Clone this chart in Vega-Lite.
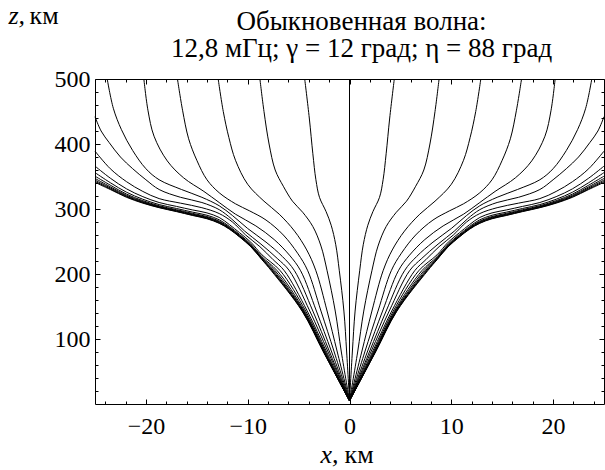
{
"$schema": "https://vega.github.io/schema/vega-lite/v6.json",
"autosize": {"type": "none"},
"padding": {"left": 95, "top": 79, "right": 1, "bottom": 66},
"width": 509,
"height": 325,
"background": "white",
"config": {"font": "Liberation Serif", "view": {"stroke": null}, "title": {"font": "Liberation Serif", "subtitleFont": "Liberation Serif"}},
"title": {"text": ["Обыкновенная волна:", "12,8 мГц; γ = 12 град; η = 88 град"], "font": "Liberation Serif", "fontSize": 27, "fontWeight": "normal", "color": "black", "anchor": "middle", "frame": "group", "offset": -52, "dy": 30, "baseline": "alphabetic", "lineHeight": 27, "dx": 12},
"datasets": {
"ax": [{"x": 0, "z": 0}],
"rays": [
{"r":"C","x":0,"z":5},{"r":"C","x":0,"z":500},
{"r":"R1","x":0,"z":5},{"r":"R1","x":0.28,"z":80},{"r":"R1","x":0.55,"z":143},{"r":"R1","x":1.0,"z":205},{"r":"R1","x":1.35,"z":245},{"r":"R1","x":1.8,"z":275},{"r":"R1","x":2.3,"z":296},{"r":"R1","x":2.95,"z":318},{"r":"R1","x":3.3,"z":345},{"r":"R1","x":3.6,"z":385},{"r":"R1","x":3.95,"z":440},{"r":"R1","x":4.4,"z":500},
{"r":"R2","x":0,"z":5},{"r":"R2","x":0.8,"z":80},{"r":"R2","x":1.4,"z":143},{"r":"R2","x":2.2,"z":205},{"r":"R2","x":2.8,"z":243},{"r":"R2","x":3.6,"z":273},{"r":"R2","x":4.6,"z":295},{"r":"R2","x":5.6,"z":312},{"r":"R2","x":6.5,"z":335},{"r":"R2","x":7.3,"z":360},{"r":"R2","x":7.9,"z":400},{"r":"R2","x":8.4,"z":450},{"r":"R2","x":8.8,"z":500},
{"r":"R3","x":0,"z":5},{"r":"R3","x":1.2,"z":80},{"r":"R3","x":2.2,"z":143},{"r":"R3","x":3.3,"z":205},{"r":"R3","x":4.2,"z":237},{"r":"R3","x":5.4,"z":266},{"r":"R3","x":6.9,"z":292},{"r":"R3","x":8.4,"z":312},{"r":"R3","x":10.0,"z":338},{"r":"R3","x":11.2,"z":375},{"r":"R3","x":11.85,"z":410},{"r":"R3","x":12.4,"z":450},{"r":"R3","x":12.9,"z":500},
{"r":"R4","x":0,"z":5},{"r":"R4","x":1.5,"z":80},{"r":"R4","x":2.8,"z":143},{"r":"R4","x":4.1,"z":205},{"r":"R4","x":5.1,"z":232},{"r":"R4","x":6.5,"z":260},{"r":"R4","x":8.2,"z":283},{"r":"R4","x":9.8,"z":297},{"r":"R4","x":11.2,"z":308},{"r":"R4","x":12.8,"z":325},{"r":"R4","x":14.0,"z":345},{"r":"R4","x":15.0,"z":375},{"r":"R4","x":15.8,"z":408},{"r":"R4","x":16.4,"z":452},{"r":"R4","x":16.9,"z":500},
{"r":"R5","x":0,"z":5},{"r":"R5","x":1.75,"z":80},{"r":"R5","x":3.25,"z":143},{"r":"R5","x":4.8,"z":205},{"r":"R5","x":5.9,"z":229},{"r":"R5","x":7.4,"z":253},{"r":"R5","x":9.2,"z":274},{"r":"R5","x":11.2,"z":292},{"r":"R5","x":12.8,"z":310},{"r":"R5","x":14.3,"z":327},{"r":"R5","x":16.3,"z":348},{"r":"R5","x":17.9,"z":374},{"r":"R5","x":19.2,"z":412},{"r":"R5","x":19.8,"z":452},{"r":"R5","x":20.2,"z":500},
{"r":"R6","x":0,"z":5},{"r":"R6","x":1.95,"z":80},{"r":"R6","x":3.6,"z":143},{"r":"R6","x":5.4,"z":205},{"r":"R6","x":6.6,"z":227},{"r":"R6","x":8.2,"z":249},{"r":"R6","x":10.0,"z":270},{"r":"R6","x":11.5,"z":290},{"r":"R6","x":12.8,"z":305},{"r":"R6","x":14.5,"z":318},{"r":"R6","x":16.5,"z":330},{"r":"R6","x":18.7,"z":345},{"r":"R6","x":20.0,"z":362},{"r":"R6","x":21.3,"z":390},{"r":"R6","x":22.4,"z":422},{"r":"R6","x":23.2,"z":455},{"r":"R6","x":23.8,"z":500},
{"r":"R7","x":0,"z":5},{"r":"R7","x":2.1,"z":80},{"r":"R7","x":3.9,"z":143},{"r":"R7","x":5.9,"z":205},{"r":"R7","x":7.1,"z":224},{"r":"R7","x":8.7,"z":246},{"r":"R7","x":10.3,"z":266},{"r":"R7","x":11.6,"z":285},{"r":"R7","x":12.8,"z":299},{"r":"R7","x":14.5,"z":310},{"r":"R7","x":16.6,"z":318},{"r":"R7","x":18.7,"z":330},{"r":"R7","x":20.0,"z":345},{"r":"R7","x":21.3,"z":362},{"r":"R7","x":22.5,"z":380},{"r":"R7","x":23.6,"z":402},{"r":"R7","x":24.4,"z":420},{"r":"R7","x":25,"z":442},
{"r":"R8","x":0,"z":5},{"r":"R8","x":2.25,"z":80},{"r":"R8","x":4.15,"z":143},{"r":"R8","x":6.4,"z":205},{"r":"R8","x":7.5,"z":222},{"r":"R8","x":8.8,"z":242},{"r":"R8","x":10.2,"z":260},{"r":"R8","x":11.5,"z":280},{"r":"R8","x":12.8,"z":293},{"r":"R8","x":14.5,"z":302},{"r":"R8","x":16.6,"z":309},{"r":"R8","x":18.7,"z":316},{"r":"R8","x":20.3,"z":327},{"r":"R8","x":21.9,"z":342},{"r":"R8","x":23.5,"z":362},{"r":"R8","x":25,"z":389},
{"r":"R9","x":0,"z":5},{"r":"R9","x":2.35,"z":80},{"r":"R9","x":4.3,"z":143},{"r":"R9","x":6.8,"z":205},{"r":"R9","x":8.6,"z":229.5},{"r":"R9","x":9.7,"z":249},{"r":"R9","x":10.8,"z":263.5},{"r":"R9","x":11.8,"z":276},{"r":"R9","x":12.8,"z":287},{"r":"R9","x":14.0,"z":294},{"r":"R9","x":15.4,"z":298.5},{"r":"R9","x":17.0,"z":304},{"r":"R9","x":18.7,"z":310},{"r":"R9","x":20.3,"z":319},{"r":"R9","x":21.9,"z":331},{"r":"R9","x":23.5,"z":347.5},{"r":"R9","x":25,"z":366},
{"r":"R10","x":0,"z":5},{"r":"R10","x":2.42,"z":80},{"r":"R10","x":4.42,"z":143},{"r":"R10","x":7.1,"z":205},{"r":"R10","x":8.6,"z":226.5},{"r":"R10","x":9.7,"z":246.2},{"r":"R10","x":10.8,"z":260.9},{"r":"R10","x":11.8,"z":273.2},{"r":"R10","x":12.8,"z":283.4},{"r":"R10","x":14.0,"z":290.4},{"r":"R10","x":15.4,"z":295.1},{"r":"R10","x":17.0,"z":300.8},{"r":"R10","x":18.7,"z":306.8},{"r":"R10","x":20.3,"z":315},{"r":"R10","x":21.9,"z":325.8},{"r":"R10","x":23.5,"z":340.5},{"r":"R10","x":25,"z":356},
{"r":"R11","x":0,"z":5},{"r":"R11","x":2.47,"z":80},{"r":"R11","x":4.5,"z":143},{"r":"R11","x":7.3,"z":205},{"r":"R11","x":8.6,"z":224.9},{"r":"R11","x":9.7,"z":244.7},{"r":"R11","x":10.8,"z":259.5},{"r":"R11","x":11.8,"z":271.7},{"r":"R11","x":12.8,"z":281.4},{"r":"R11","x":14.0,"z":288.4},{"r":"R11","x":15.4,"z":293.2},{"r":"R11","x":17.0,"z":299},{"r":"R11","x":18.7,"z":305},{"r":"R11","x":20.3,"z":312.8},{"r":"R11","x":21.9,"z":322.9},{"r":"R11","x":23.5,"z":336.7},{"r":"R11","x":25,"z":350.5},
{"r":"R12","x":0,"z":5},{"r":"R12","x":2.5,"z":80},{"r":"R12","x":4.55,"z":143},{"r":"R12","x":7.45,"z":205},{"r":"R12","x":8.6,"z":223.8},{"r":"R12","x":9.7,"z":243.7},{"r":"R12","x":10.8,"z":258.6},{"r":"R12","x":11.8,"z":270.7},{"r":"R12","x":12.8,"z":280.2},{"r":"R12","x":14.0,"z":287.2},{"r":"R12","x":15.4,"z":292},{"r":"R12","x":17.0,"z":297.9},{"r":"R12","x":18.7,"z":303.9},{"r":"R12","x":20.3,"z":311.4},{"r":"R12","x":21.9,"z":321.1},{"r":"R12","x":23.5,"z":334.2},{"r":"R12","x":25,"z":347},
{"r":"R13","x":0,"z":5},{"r":"R13","x":2.52,"z":80},{"r":"R13","x":4.6,"z":143},{"r":"R13","x":7.55,"z":205},{"r":"R13","x":8.6,"z":223.1},{"r":"R13","x":9.7,"z":243},{"r":"R13","x":10.8,"z":257.9},{"r":"R13","x":11.8,"z":270},{"r":"R13","x":12.8,"z":279.3},{"r":"R13","x":14.0,"z":286.3},{"r":"R13","x":15.4,"z":291.2},{"r":"R13","x":17.0,"z":297.1},{"r":"R13","x":18.7,"z":303.1},{"r":"R13","x":20.3,"z":310.4},{"r":"R13","x":21.9,"z":319.8},{"r":"R13","x":23.5,"z":332.5},{"r":"R13","x":25,"z":344.5},
{"r":"R14","x":0,"z":5},{"r":"R14","x":2.54,"z":80},{"r":"R14","x":4.63,"z":143},{"r":"R14","x":7.62,"z":205},{"r":"R14","x":8.6,"z":222.5},{"r":"R14","x":9.7,"z":242.4},{"r":"R14","x":10.8,"z":257.4},{"r":"R14","x":11.8,"z":269.4},{"r":"R14","x":12.8,"z":278.5},{"r":"R14","x":14.0,"z":285.5},{"r":"R14","x":15.4,"z":290.5},{"r":"R14","x":17.0,"z":296.5},{"r":"R14","x":18.7,"z":302.5},{"r":"R14","x":20.3,"z":309.6},{"r":"R14","x":21.9,"z":318.8},{"r":"R14","x":23.5,"z":331.1},{"r":"R14","x":25,"z":342.5},
{"r":"R15","x":0,"z":5},{"r":"R15","x":2.56,"z":80},{"r":"R15","x":4.66,"z":143},{"r":"R15","x":7.68,"z":205},{"r":"R15","x":8.6,"z":222},{"r":"R15","x":9.7,"z":242},{"r":"R15","x":10.8,"z":257},{"r":"R15","x":11.8,"z":269},{"r":"R15","x":12.8,"z":278},{"r":"R15","x":14.0,"z":285},{"r":"R15","x":15.4,"z":290},{"r":"R15","x":17.0,"z":296},{"r":"R15","x":18.7,"z":302},{"r":"R15","x":20.3,"z":309},{"r":"R15","x":21.9,"z":318},{"r":"R15","x":23.5,"z":330},{"r":"R15","x":25,"z":341},
{"r":"L1","x":0,"z":5},{"r":"L1","x":-0.28,"z":80},{"r":"L1","x":-0.55,"z":143},{"r":"L1","x":-1.0,"z":205},{"r":"L1","x":-1.35,"z":245},{"r":"L1","x":-1.8,"z":275},{"r":"L1","x":-2.3,"z":296},{"r":"L1","x":-2.95,"z":318},{"r":"L1","x":-3.3,"z":345},{"r":"L1","x":-3.6,"z":385},{"r":"L1","x":-3.95,"z":440},{"r":"L1","x":-4.4,"z":500},
{"r":"L2","x":0,"z":5},{"r":"L2","x":-0.8,"z":80},{"r":"L2","x":-1.4,"z":143},{"r":"L2","x":-2.2,"z":205},{"r":"L2","x":-2.8,"z":243},{"r":"L2","x":-3.6,"z":273},{"r":"L2","x":-4.6,"z":295},{"r":"L2","x":-5.6,"z":312},{"r":"L2","x":-6.5,"z":335},{"r":"L2","x":-7.3,"z":360},{"r":"L2","x":-7.9,"z":400},{"r":"L2","x":-8.4,"z":450},{"r":"L2","x":-8.8,"z":500},
{"r":"L3","x":0,"z":5},{"r":"L3","x":-1.2,"z":80},{"r":"L3","x":-2.2,"z":143},{"r":"L3","x":-3.3,"z":205},{"r":"L3","x":-4.2,"z":237},{"r":"L3","x":-5.4,"z":266},{"r":"L3","x":-6.9,"z":292},{"r":"L3","x":-8.4,"z":312},{"r":"L3","x":-10.0,"z":338},{"r":"L3","x":-11.2,"z":375},{"r":"L3","x":-11.85,"z":410},{"r":"L3","x":-12.4,"z":450},{"r":"L3","x":-12.9,"z":500},
{"r":"L4","x":0,"z":5},{"r":"L4","x":-1.5,"z":80},{"r":"L4","x":-2.8,"z":143},{"r":"L4","x":-4.1,"z":205},{"r":"L4","x":-5.1,"z":232},{"r":"L4","x":-6.5,"z":260},{"r":"L4","x":-8.2,"z":283},{"r":"L4","x":-9.8,"z":297},{"r":"L4","x":-11.2,"z":308},{"r":"L4","x":-12.8,"z":325},{"r":"L4","x":-14.0,"z":345},{"r":"L4","x":-15.0,"z":375},{"r":"L4","x":-15.8,"z":408},{"r":"L4","x":-16.4,"z":452},{"r":"L4","x":-16.9,"z":500},
{"r":"L5","x":0,"z":5},{"r":"L5","x":-1.75,"z":80},{"r":"L5","x":-3.25,"z":143},{"r":"L5","x":-4.8,"z":205},{"r":"L5","x":-5.9,"z":229},{"r":"L5","x":-7.4,"z":253},{"r":"L5","x":-9.2,"z":274},{"r":"L5","x":-11.2,"z":292},{"r":"L5","x":-12.8,"z":310},{"r":"L5","x":-14.3,"z":327},{"r":"L5","x":-16.3,"z":348},{"r":"L5","x":-17.9,"z":374},{"r":"L5","x":-19.2,"z":412},{"r":"L5","x":-19.8,"z":452},{"r":"L5","x":-20.2,"z":500},
{"r":"L6","x":0,"z":5},{"r":"L6","x":-1.95,"z":80},{"r":"L6","x":-3.6,"z":143},{"r":"L6","x":-5.4,"z":205},{"r":"L6","x":-6.6,"z":227},{"r":"L6","x":-8.2,"z":249},{"r":"L6","x":-10.0,"z":270},{"r":"L6","x":-11.5,"z":290},{"r":"L6","x":-12.8,"z":305},{"r":"L6","x":-14.5,"z":318},{"r":"L6","x":-16.5,"z":330},{"r":"L6","x":-18.7,"z":345},{"r":"L6","x":-20.0,"z":362},{"r":"L6","x":-21.3,"z":390},{"r":"L6","x":-22.4,"z":422},{"r":"L6","x":-23.2,"z":455},{"r":"L6","x":-23.8,"z":500},
{"r":"L7","x":0,"z":5},{"r":"L7","x":-2.1,"z":80},{"r":"L7","x":-3.9,"z":143},{"r":"L7","x":-5.9,"z":205},{"r":"L7","x":-7.1,"z":224},{"r":"L7","x":-8.7,"z":246},{"r":"L7","x":-10.3,"z":266},{"r":"L7","x":-11.6,"z":285},{"r":"L7","x":-12.8,"z":299},{"r":"L7","x":-14.5,"z":310},{"r":"L7","x":-16.6,"z":318},{"r":"L7","x":-18.7,"z":330},{"r":"L7","x":-20.0,"z":345},{"r":"L7","x":-21.3,"z":362},{"r":"L7","x":-22.5,"z":380},{"r":"L7","x":-23.6,"z":402},{"r":"L7","x":-24.4,"z":420},{"r":"L7","x":-25,"z":442},
{"r":"L8","x":0,"z":5},{"r":"L8","x":-2.25,"z":80},{"r":"L8","x":-4.15,"z":143},{"r":"L8","x":-6.4,"z":205},{"r":"L8","x":-7.5,"z":222},{"r":"L8","x":-8.8,"z":242},{"r":"L8","x":-10.2,"z":260},{"r":"L8","x":-11.5,"z":280},{"r":"L8","x":-12.8,"z":293},{"r":"L8","x":-14.5,"z":302},{"r":"L8","x":-16.6,"z":309},{"r":"L8","x":-18.7,"z":316},{"r":"L8","x":-20.3,"z":327},{"r":"L8","x":-21.9,"z":342},{"r":"L8","x":-23.5,"z":362},{"r":"L8","x":-25,"z":389},
{"r":"L9","x":0,"z":5},{"r":"L9","x":-2.35,"z":80},{"r":"L9","x":-4.3,"z":143},{"r":"L9","x":-6.8,"z":205},{"r":"L9","x":-8.6,"z":229.5},{"r":"L9","x":-9.7,"z":249},{"r":"L9","x":-10.8,"z":263.5},{"r":"L9","x":-11.8,"z":276},{"r":"L9","x":-12.8,"z":287},{"r":"L9","x":-14.0,"z":294},{"r":"L9","x":-15.4,"z":298.5},{"r":"L9","x":-17.0,"z":304},{"r":"L9","x":-18.7,"z":310},{"r":"L9","x":-20.3,"z":319},{"r":"L9","x":-21.9,"z":331},{"r":"L9","x":-23.5,"z":347.5},{"r":"L9","x":-25,"z":366},
{"r":"L10","x":0,"z":5},{"r":"L10","x":-2.42,"z":80},{"r":"L10","x":-4.42,"z":143},{"r":"L10","x":-7.1,"z":205},{"r":"L10","x":-8.6,"z":226.5},{"r":"L10","x":-9.7,"z":246.2},{"r":"L10","x":-10.8,"z":260.9},{"r":"L10","x":-11.8,"z":273.2},{"r":"L10","x":-12.8,"z":283.4},{"r":"L10","x":-14.0,"z":290.4},{"r":"L10","x":-15.4,"z":295.1},{"r":"L10","x":-17.0,"z":300.8},{"r":"L10","x":-18.7,"z":306.8},{"r":"L10","x":-20.3,"z":315},{"r":"L10","x":-21.9,"z":325.8},{"r":"L10","x":-23.5,"z":340.5},{"r":"L10","x":-25,"z":356},
{"r":"L11","x":0,"z":5},{"r":"L11","x":-2.47,"z":80},{"r":"L11","x":-4.5,"z":143},{"r":"L11","x":-7.3,"z":205},{"r":"L11","x":-8.6,"z":224.9},{"r":"L11","x":-9.7,"z":244.7},{"r":"L11","x":-10.8,"z":259.5},{"r":"L11","x":-11.8,"z":271.7},{"r":"L11","x":-12.8,"z":281.4},{"r":"L11","x":-14.0,"z":288.4},{"r":"L11","x":-15.4,"z":293.2},{"r":"L11","x":-17.0,"z":299},{"r":"L11","x":-18.7,"z":305},{"r":"L11","x":-20.3,"z":312.8},{"r":"L11","x":-21.9,"z":322.9},{"r":"L11","x":-23.5,"z":336.7},{"r":"L11","x":-25,"z":350.5},
{"r":"L12","x":0,"z":5},{"r":"L12","x":-2.5,"z":80},{"r":"L12","x":-4.55,"z":143},{"r":"L12","x":-7.45,"z":205},{"r":"L12","x":-8.6,"z":223.8},{"r":"L12","x":-9.7,"z":243.7},{"r":"L12","x":-10.8,"z":258.6},{"r":"L12","x":-11.8,"z":270.7},{"r":"L12","x":-12.8,"z":280.2},{"r":"L12","x":-14.0,"z":287.2},{"r":"L12","x":-15.4,"z":292},{"r":"L12","x":-17.0,"z":297.9},{"r":"L12","x":-18.7,"z":303.9},{"r":"L12","x":-20.3,"z":311.4},{"r":"L12","x":-21.9,"z":321.1},{"r":"L12","x":-23.5,"z":334.2},{"r":"L12","x":-25,"z":347},
{"r":"L13","x":0,"z":5},{"r":"L13","x":-2.52,"z":80},{"r":"L13","x":-4.6,"z":143},{"r":"L13","x":-7.55,"z":205},{"r":"L13","x":-8.6,"z":223.1},{"r":"L13","x":-9.7,"z":243},{"r":"L13","x":-10.8,"z":257.9},{"r":"L13","x":-11.8,"z":270},{"r":"L13","x":-12.8,"z":279.3},{"r":"L13","x":-14.0,"z":286.3},{"r":"L13","x":-15.4,"z":291.2},{"r":"L13","x":-17.0,"z":297.1},{"r":"L13","x":-18.7,"z":303.1},{"r":"L13","x":-20.3,"z":310.4},{"r":"L13","x":-21.9,"z":319.8},{"r":"L13","x":-23.5,"z":332.5},{"r":"L13","x":-25,"z":344.5},
{"r":"L14","x":0,"z":5},{"r":"L14","x":-2.54,"z":80},{"r":"L14","x":-4.63,"z":143},{"r":"L14","x":-7.62,"z":205},{"r":"L14","x":-8.6,"z":222.5},{"r":"L14","x":-9.7,"z":242.4},{"r":"L14","x":-10.8,"z":257.4},{"r":"L14","x":-11.8,"z":269.4},{"r":"L14","x":-12.8,"z":278.5},{"r":"L14","x":-14.0,"z":285.5},{"r":"L14","x":-15.4,"z":290.5},{"r":"L14","x":-17.0,"z":296.5},{"r":"L14","x":-18.7,"z":302.5},{"r":"L14","x":-20.3,"z":309.6},{"r":"L14","x":-21.9,"z":318.8},{"r":"L14","x":-23.5,"z":331.1},{"r":"L14","x":-25,"z":342.5},
{"r":"L15","x":0,"z":5},{"r":"L15","x":-2.56,"z":80},{"r":"L15","x":-4.66,"z":143},{"r":"L15","x":-7.68,"z":205},{"r":"L15","x":-8.6,"z":222},{"r":"L15","x":-9.7,"z":242},{"r":"L15","x":-10.8,"z":257},{"r":"L15","x":-11.8,"z":269},{"r":"L15","x":-12.8,"z":278},{"r":"L15","x":-14.0,"z":285},{"r":"L15","x":-15.4,"z":290},{"r":"L15","x":-17.0,"z":296},{"r":"L15","x":-18.7,"z":302},{"r":"L15","x":-20.3,"z":309},{"r":"L15","x":-21.9,"z":318},{"r":"L15","x":-23.5,"z":330},{"r":"L15","x":-25,"z":341}
]
},
"layer": [
{
"data": {"name": "rays"},
"mark": {"type": "line", "interpolate": "catmull-rom", "strokeWidth": 1, "color": "black"},
"encoding": {
"x": {"field": "x", "type": "quantitative", "scale": {"domain": [-25, 25], "nice": false, "zero": false},
 "axis": {"orient": "bottom", "values": [-20, -10, 0, 10, 20], "tickSize": -5, "tickColor": "black", "domainColor": "black", "domainWidth": 1, "grid": false, "labelFont": "Liberation Serif", "labelFontSize": 24, "labelColor": "black", "labelPadding": 15, "labelFlush": false, "title": "x,", "titleFont": "Liberation Serif", "titleFontSize": 26, "titleFontStyle": "italic", "titleFontWeight": "normal", "titleColor": "black", "titleAlign": "left", "titleBaseline": "alphabetic", "titleX": 225, "titleY": 58}},
"y": {"field": "z", "type": "quantitative", "scale": {"domain": [0, 500], "nice": false, "zero": false},
 "axis": {"orient": "left", "values": [100, 200, 300, 400, 500], "tickSize": -5, "tickColor": "black", "domainColor": "black", "domainWidth": 1, "grid": false, "labelFont": "Liberation Serif", "labelFontSize": 24, "labelColor": "black", "labelPadding": 10, "labelFlush": false, "title": "z,", "titleFont": "Liberation Serif", "titleFontSize": 26, "titleFontStyle": "italic", "titleFontWeight": "normal", "titleColor": "black", "titleAngle": 0, "titleAlign": "left", "titleBaseline": "alphabetic", "titleX": -87, "titleY": -56}},
"detail": {"field": "r"},
"order": {"field": "z"}
}
},
{
"data": {"name": "ax"},
"mark": {"type": "point", "opacity": 0},
"encoding": {
"x": {"field": "x", "type": "quantitative", "scale": {"domain": [-25, 25], "nice": false, "zero": false},
 "axis": {"orient": "bottom", "values": [-24, -22, -18, -16, -14, -12, -8, -6, -4, -2, 2, 4, 6, 8, 12, 14, 16, 18, 22, 24], "tickSize": -3, "tickColor": "black", "domain": false, "grid": false, "labels": false, "title": "км", "titleFont": "Liberation Serif", "titleFontSize": 26, "titleFontWeight": "normal", "titleColor": "black", "titleAlign": "left", "titleBaseline": "alphabetic", "titleX": 249, "titleY": 58}},
"y": {"field": "z", "type": "quantitative", "scale": {"domain": [0, 500], "nice": false, "zero": false},
 "axis": {"orient": "left", "values": [20, 40, 60, 80, 120, 140, 160, 180, 220, 240, 260, 280, 320, 340, 360, 380, 420, 440, 460, 480], "tickSize": -3, "tickColor": "black", "domain": false, "grid": false, "labels": false, "title": "км", "titleFont": "Liberation Serif", "titleFontSize": 26, "titleFontWeight": "normal", "titleColor": "black", "titleAngle": 0, "titleAlign": "left", "titleBaseline": "alphabetic", "titleX": -66, "titleY": -56}}
}
},
{
"data": {"name": "ax"},
"mark": {"type": "point", "opacity": 0},
"encoding": {
"x": {"field": "x", "type": "quantitative", "scale": {"domain": [-25, 25], "nice": false, "zero": false},
 "axis": {"orient": "top", "values": [-20, -10, 0, 10, 20], "tickSize": -5, "tickColor": "black", "domainColor": "black", "grid": false, "labels": false, "title": null}},
"y": {"field": "z", "type": "quantitative", "scale": {"domain": [0, 500], "nice": false, "zero": false},
 "axis": {"orient": "right", "values": [100, 200, 300, 400, 500], "tickSize": -5, "tickColor": "black", "domainColor": "black", "grid": false, "labels": false, "title": null}}
}
},
{
"data": {"name": "ax"},
"mark": {"type": "point", "opacity": 0},
"encoding": {
"x": {"field": "x", "type": "quantitative", "scale": {"domain": [-25, 25], "nice": false, "zero": false},
 "axis": {"orient": "top", "values": [-24, -22, -18, -16, -14, -12, -8, -6, -4, -2, 2, 4, 6, 8, 12, 14, 16, 18, 22, 24], "tickSize": -3, "tickColor": "black", "domain": false, "grid": false, "labels": false, "title": null}},
"y": {"field": "z", "type": "quantitative", "scale": {"domain": [0, 500], "nice": false, "zero": false},
 "axis": {"orient": "right", "values": [20, 40, 60, 80, 120, 140, 160, 180, 220, 240, 260, 280, 320, 340, 360, 380, 420, 440, 460, 480], "tickSize": -3, "tickColor": "black", "domain": false, "grid": false, "labels": false, "title": null}}
}
}
],
"resolve": {"axis": {"x": "independent", "y": "independent"}}
}
